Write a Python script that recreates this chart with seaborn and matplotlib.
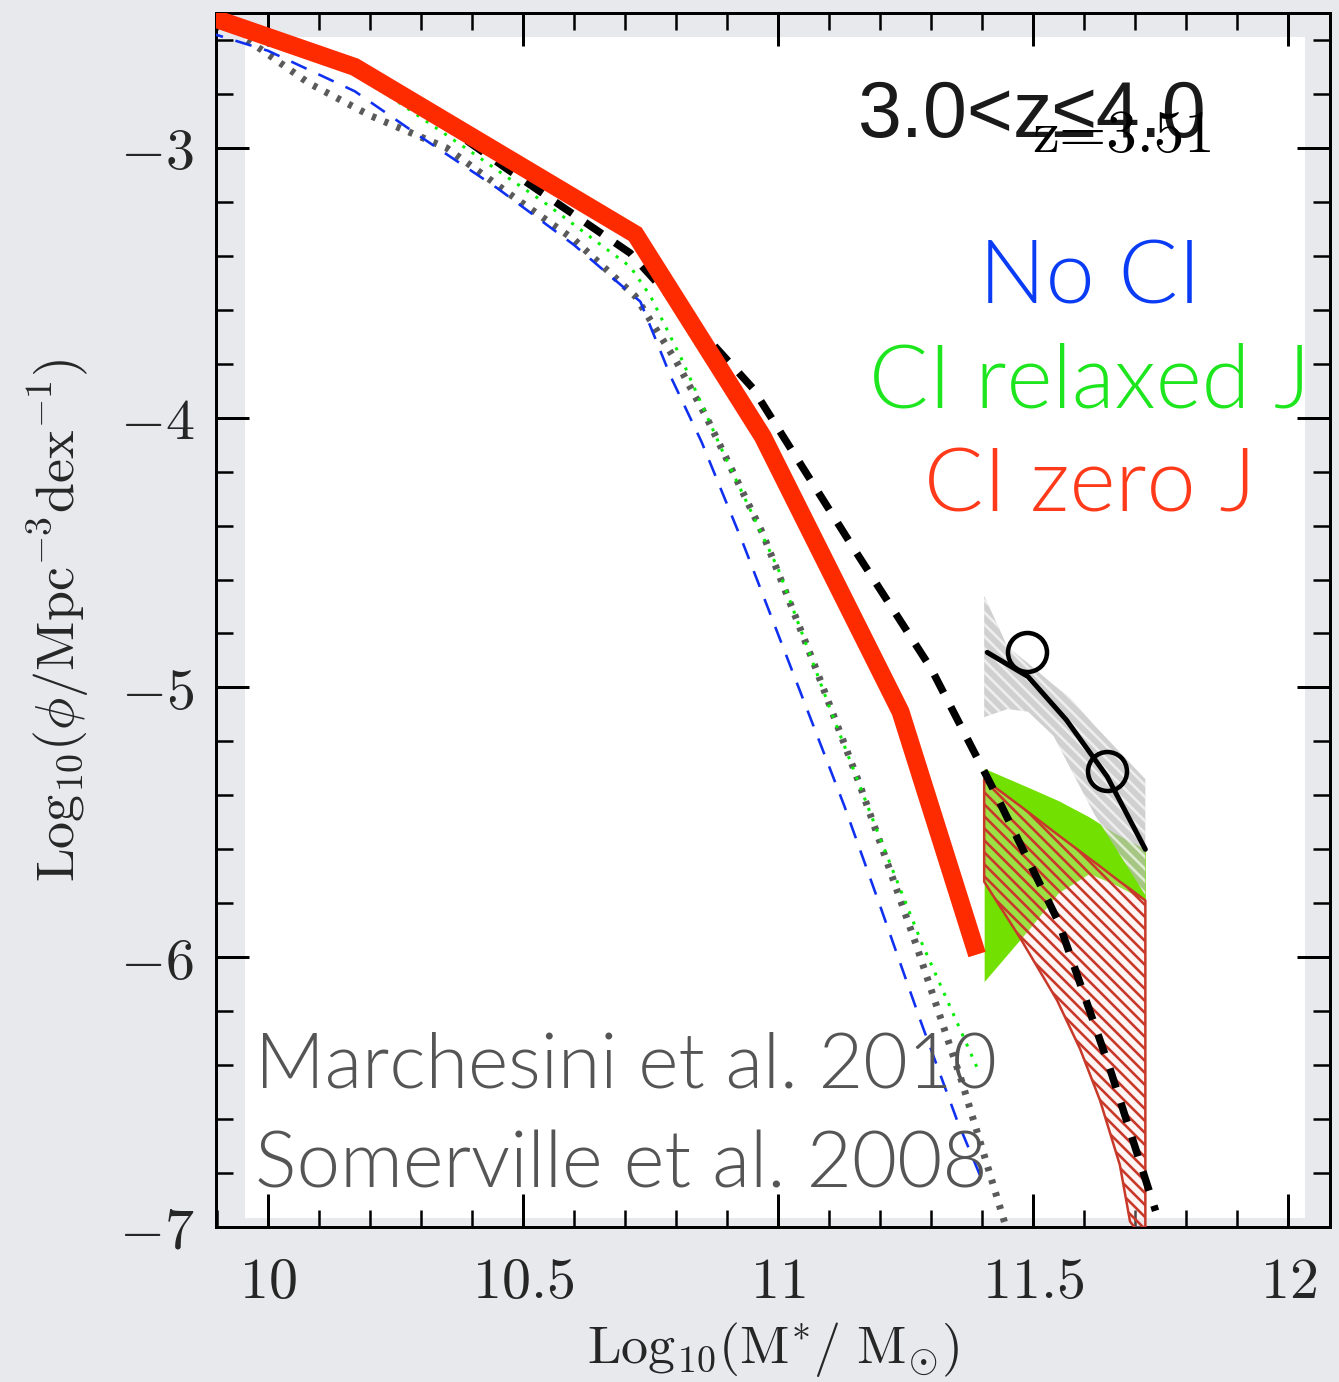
import matplotlib
matplotlib.use("Agg")
import matplotlib.pyplot as plt
from matplotlib.patches import Rectangle
from matplotlib.ticker import MultipleLocator
import seaborn as sns

# ---- model curves: log10 stellar mass vs log10 number density ----
red_x = [9.88, 10.17, 10.72, 10.97, 11.24, 11.39]
red_y = [-2.51, -2.70, -3.32, -4.07, -5.09, -5.99]

dash_x = [9.95, 10.17, 10.32, 10.47, 10.71, 10.95, 11.15, 11.30, 11.42, 11.55, 11.65, 11.74]
dash_y = [-2.56, -2.71, -2.88, -3.08, -3.39, -3.89, -4.49, -4.93, -5.37, -5.87, -6.41, -6.94]

dot_x = [9.96, 10.08, 10.20, 10.35, 10.48, 10.60, 10.72, 10.80, 10.86, 10.97, 11.07, 11.16, 11.27, 11.36, 11.45]
dot_y = [-2.60, -2.76, -2.88, -3.00, -3.18, -3.34, -3.55, -3.79, -4.00, -4.43, -4.91, -5.36, -5.95, -6.46, -7.02]

blue_x = [9.88, 10.00, 10.17, 10.30, 10.45, 10.60, 10.73, 10.79, 10.85, 10.93, 11.03, 11.13, 11.20, 11.28, 11.35, 11.405]
blue_y = [-2.57, -2.64, -2.79, -2.96, -3.15, -3.36, -3.57, -3.85, -4.09, -4.46, -4.95, -5.44, -5.81, -6.24, -6.60, -6.85]

green_x = [9.90, 10.17, 10.41, 10.47, 10.54, 10.60, 10.66, 10.71, 10.75, 10.81, 10.89, 11.00, 11.10, 11.20, 11.28, 11.395]
green_y = [-2.53, -2.72, -3.03, -3.11, -3.20, -3.285, -3.37, -3.44, -3.55, -3.78, -4.12, -4.56, -5.07, -5.56, -5.94, -6.43]

# ---- observed mass function (Marchesini et al. 2010) ----
obs_x = [11.488, 11.645]
obs_y = [-4.87, -5.31]
fit_x = [11.41, 11.49, 11.565, 11.645, 11.72]
fit_y = [-4.87, -4.96, -5.12, -5.33, -5.60]

grey_x = [11.404, 11.45, 11.49, 11.54, 11.573, 11.62, 11.72]
grey_hi = [-4.66, -4.85, -4.91, -4.99, -5.04, -5.14, -5.34]
grey_lo = [-5.11, -5.08, -5.09, -5.18, -5.30, -5.47, -5.77]

band_g_x = [11.404, 11.49, 11.55, 11.61, 11.66, 11.72]
band_g_hi = [-5.30, -5.37, -5.42, -5.48, -5.54, -5.60]
band_g_lo = [-6.09, -5.90, -5.76, -5.69, -5.73, -5.79]

band_r_x = [11.404, 11.475, 11.547, 11.592, 11.631, 11.67, 11.69, 11.72]
band_r_hi = [-5.34, -5.44, -5.544, -5.608, -5.663, -5.72, -5.747, -5.79]
band_r_lo = [-5.72, -5.93, -6.16, -6.34, -6.53, -6.77, -6.98, -7.05]

x_ticks = [10, 10.5, 11, 11.5, 12]
y_ticks = [-7, -6, -5, -4, -3]

BG = "#e7e9ed"
W, H, DPI = 1339, 1382, 72

sns.set_theme(style="ticks")
plt.rcParams["font.family"] = ["Lato", "DejaVu Sans"]
plt.rcParams["mathtext.fontset"] = "cm"
plt.rcParams["hatch.linewidth"] = 2.6

fig = plt.figure(figsize=(W / DPI, H / DPI), dpi=DPI, facecolor=BG)
ax = fig.add_axes([216 / W, 1 - 1227 / H, (1330 - 216) / W, (1227 - 13) / H])
ax.set_facecolor(BG)
ax.add_patch(Rectangle((0.026, 0.0074), 0.9516, 0.9726, transform=ax.transAxes,
                       facecolor="white", lw=0, zorder=0.5))

# shaded uncertainty bands
ax.fill_between(band_g_x, band_g_lo, band_g_hi, facecolor="#72e000", lw=0, zorder=2)
ax.fill_between(grey_x, grey_lo, grey_hi, facecolor=(0.74, 0.74, 0.74, 0.7),
                edgecolor=(1, 1, 1, 0.65), hatch="\\\\", lw=0, zorder=2.5)
ax.fill_between(band_r_x, band_r_lo, band_r_hi, facecolor=(1.0, 0.88, 0.88, 0.3),
                edgecolor="#c8392a", hatch="\\\\", lw=2.5, zorder=3)

common = dict(ax=ax, sort=False, estimator=None, errorbar=None, legend=False)
sns.lineplot(x=dot_x, y=dot_y, color="#5a5a5a", lw=7, linestyle=(0, (0.6, 1.3)),
             dash_capstyle="butt", zorder=4, **common)
sns.lineplot(x=blue_x, y=blue_y, color="#1030f0", lw=2.6, linestyle=(0, (6.5, 5)),
             zorder=5, **common)
sns.lineplot(x=green_x, y=green_y, color="#00ee00", lw=3, linestyle=(0, (1, 2.7)),
             zorder=5.5, **common)
sns.lineplot(x=dash_x, y=dash_y, color="black", lw=7.5, linestyle=(0, (2.7, 2.1)),
             dash_capstyle="butt", zorder=6, **common)
sns.lineplot(x=red_x, y=red_y, color="#ff2b00", lw=18, solid_capstyle="butt",
             solid_joinstyle="miter", zorder=7, **common)
sns.lineplot(x=fit_x, y=fit_y, color="black", lw=5, zorder=6, **common)
sns.lineplot(x=obs_x, y=obs_y, color="black", linestyle="none", marker="o",
             markersize=39, markerfacecolor="none", markeredgecolor="black",
             markeredgewidth=4.5, zorder=6.5, **common)

ax.set_xlim(9.898, 12.082)
ax.set_ylim(-7, -2.5)

ax.set_xticks(x_ticks, labels=[f"${v:g}$" for v in x_ticks])
ax.set_yticks(y_ticks, labels=[f"${v:g}$" for v in y_ticks])
ax.xaxis.set_minor_locator(MultipleLocator(0.1))
ax.yaxis.set_minor_locator(MultipleLocator(0.2))
ax.tick_params(which="both", direction="in", top=True, right=True, color="black")
ax.tick_params(which="major", length=33, width=3, labelsize=58)
ax.tick_params(which="minor", length=17, width=2.5)
ax.tick_params(axis="x", which="major", pad=28)
ax.tick_params(axis="y", which="major", pad=22)
for s in ax.spines.values():
    s.set_linewidth(3)
    s.set_color("black")

ax.set_xlabel(r"$\mathrm{Log_{10}(M^{*}/\ M_{\odot})}$", fontsize=54, labelpad=12)
ax.set_ylabel(r"$\mathrm{Log_{10}(\phi/Mpc^{-3}dex^{-1})}$", fontsize=54, labelpad=28)


def fx(px):
    return px / W


def fy(py):
    return 1 - py / H


fig.text(fx(857), fy(137), "3.0<z≤4.0", fontsize=79, color="#1a1a1a",
         family=["Liberation Sans", "DejaVu Sans"], ha="left", va="baseline", zorder=10)
fig.text(fx(1032), fy(152), "z=3.51", fontsize=61, color="black",
         family=["cmr10", "DejaVu Serif"], ha="left", va="baseline", zorder=11)

fig.text(fx(1090), fy(303), "No CI", fontsize=88, color="#0a3cf5",
         fontweight=300, ha="center", va="baseline", zorder=10)
fig.text(fx(1090), fy(408), "CI relaxed J", fontsize=88, color="#1ee61e",
         fontweight=300, ha="center", va="baseline", zorder=10)
fig.text(fx(1090), fy(512), "CI zero J", fontsize=88, color="#ff3a1a",
         fontweight=300, ha="center", va="baseline", zorder=10)

fig.text(fx(255), fy(1088), "Marchesini et al. 2010", fontsize=77, color="#555555",
         fontweight=300, ha="left", va="baseline", zorder=10)
fig.text(fx(255), fy(1188), "Somerville et al. 2008", fontsize=78, color="#555555",
         fontweight=300, ha="left", va="baseline", zorder=10)

fig.savefig("out.png", dpi=DPI, facecolor=BG)
